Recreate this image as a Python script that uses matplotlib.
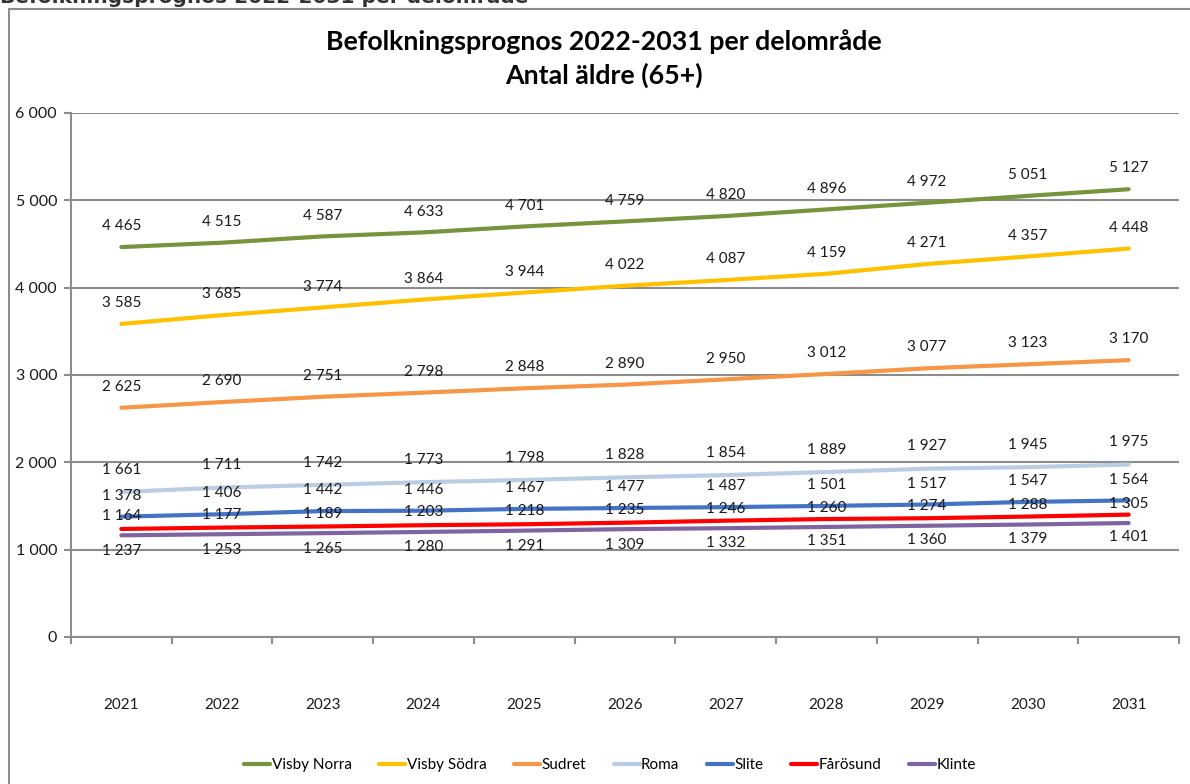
import matplotlib.pyplot as plt
from matplotlib.patches import Rectangle
from matplotlib.ticker import FuncFormatter, FixedLocator

years = ['2021', '2022', '2023', '2024', '2025', '2026', '2027', '2028', '2029', '2030', '2031']

visby_norra = [4465, 4515, 4587, 4633, 4701, 4759, 4820, 4896, 4972, 5051, 5127]
visby_sodra = [3585, 3685, 3774, 3864, 3944, 4022, 4087, 4159, 4271, 4357, 4448]
sudret = [2625, 2690, 2751, 2798, 2848, 2890, 2950, 3012, 3077, 3123, 3170]
roma = [1661, 1711, 1742, 1773, 1798, 1828, 1854, 1889, 1927, 1945, 1975]
slite = [1378, 1406, 1442, 1446, 1467, 1477, 1487, 1501, 1517, 1547, 1564]
farosund = [1237, 1253, 1265, 1280, 1291, 1309, 1332, 1351, 1360, 1379, 1401]
klinte = [1164, 1177, 1189, 1203, 1218, 1235, 1246, 1260, 1274, 1288, 1305]

series = [
    ('Visby Norra', visby_norra, '#77933C', 15),
    ('Visby Södra', visby_sodra, '#FFC000', 15),
    ('Sudret', sudret, '#F79646', 15),
    ('Roma', roma, '#B9CDE5', 16),
    ('Slite', slite, '#4472C4', 15),
    ('Fårösund', farosund, '#FF0000', -16),
    ('Klinte', klinte, '#8064A2', 14),
]

FONT = 'Lato'
GRID = '#8C8C8C'

def sep(v, pos=None):
    return f'{int(v):,}'.replace(',', ' ')

fig = plt.figure(figsize=(11.9, 7.84), dpi=100)

# outer chart frame (partly outside the image)
fig.patches.append(Rectangle((9 / 1190, -0.05), 1.1, 1 - 9 / 784 + 0.05,
                             transform=fig.transFigure, fill=False,
                             edgecolor='#8C8C8C', linewidth=1.5))
# cut-off heading above the chart
fig.text(0.0, 1 - 3 / 784, 'Befolkningsprognos 2022-2031 per delområde',
         fontsize=14.5, fontweight='bold', color='#333333',
         family='DejaVu Sans', ha='left', va='baseline')

ax = fig.add_axes([71 / 1190, 1 - 637 / 784, (1179 - 71) / 1190, (637 - 113) / 784])

x = list(range(len(years)))
for name, vals, color, off in series:
    ax.plot(x, vals, color=color, linewidth=3, label=name, solid_capstyle='round')
    for xi, v in zip(x, vals):
        ax.annotate(sep(v), (xi, v), xytext=(0, off), textcoords='offset points',
                    ha='center', va='center', fontsize=11, family=FONT, color='#1a1a1a')

ax.set_xlim(-0.5, len(years) - 0.5)
ax.set_ylim(0, 6000)
ax.set_yticks(range(0, 6001, 1000))
ax.yaxis.set_major_formatter(FuncFormatter(sep))
ax.grid(axis='y', color=GRID, linewidth=1.5)
ax.set_axisbelow(True)

ax.set_xticks(x)
ax.set_xticklabels(years)
ax.xaxis.set_minor_locator(FixedLocator([i - 0.5 for i in range(len(years) + 1)]))
ax.tick_params(axis='x', which='major', length=0, pad=44)
ax.tick_params(axis='x', which='minor', length=5, color=GRID, width=1.5)
ax.tick_params(axis='y', length=5, color=GRID, width=1.5, pad=5)
for lab in ax.get_xticklabels():
    lab.set_family(FONT)
    lab.set_fontsize(11)
    lab.set_color('#1a1a1a')
for lab in ax.get_yticklabels():
    lab.set_family(FONT)
    lab.set_fontsize(11.5)
    lab.set_color('#1a1a1a')

for s in ['top', 'right']:
    ax.spines[s].set_visible(False)
for s in ['left', 'bottom']:
    ax.spines[s].set_color(GRID)
    ax.spines[s].set_linewidth(1.5)

fig.text(604 / 1190, 1 - 42 / 784, 'Befolkningsprognos 2022-2031 per delområde',
         ha='center', va='center', fontsize=19.3, fontweight='bold', family=FONT)
fig.text(604 / 1190, 1 - 75 / 784, 'Antal äldre (65+)',
         ha='center', va='center', fontsize=19.3, fontweight='bold', family=FONT)

leg = fig.legend(loc='center', bbox_to_anchor=(610 / 1190, 1 - 765 / 784), ncol=7,
                 frameon=False, handlelength=1.7, handletextpad=0.1,
                 columnspacing=1.8, prop={'family': FONT, 'size': 11})

fig.savefig('out.png', dpi=100)
